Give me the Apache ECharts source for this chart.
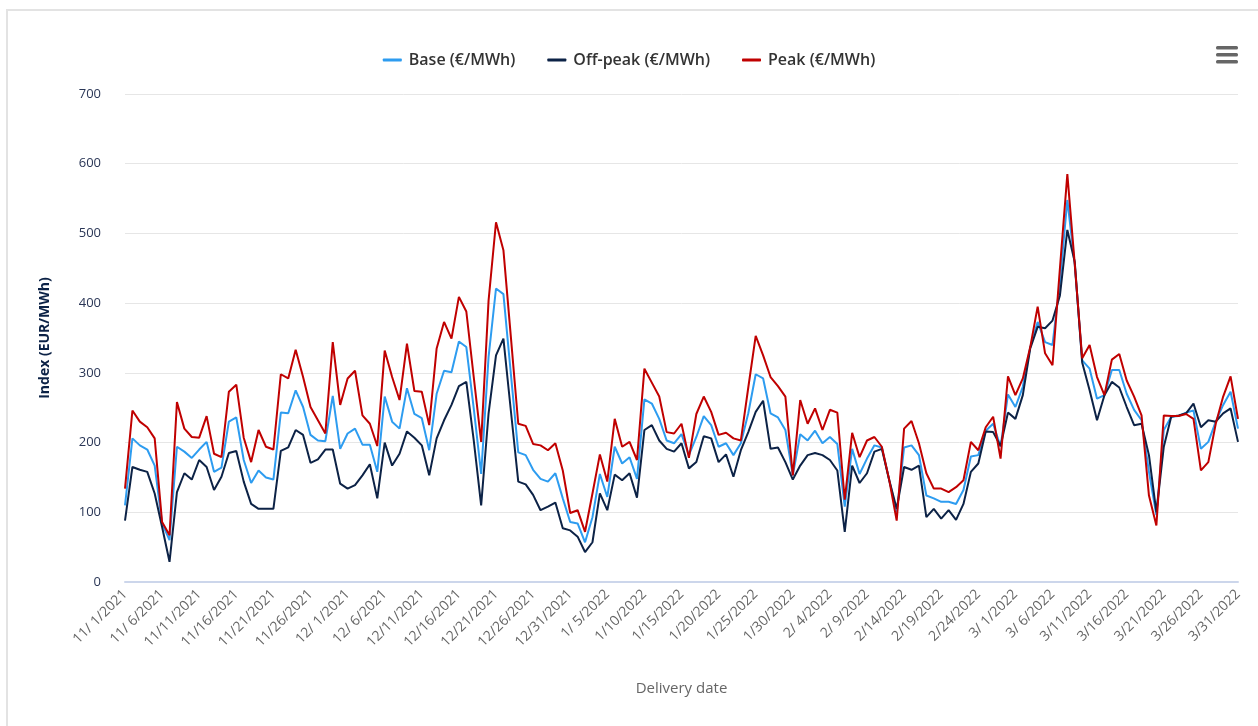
<!DOCTYPE html>
<html>
<head>
<meta charset="utf-8">
<script src="https://cdn.jsdelivr.net/npm/echarts@6/dist/echarts.min.js"></script>
<style>
html,body{margin:0;padding:0;background:#fff;}
#c{width:1258px;height:726px;}
</style>
</head>
<body>
<div id="c"></div>
<script>
// Delivery dates: 11/1/2021 .. 3/31/2022 (daily)
const startDate = [2021, 10, 1]; // year, monthIndex, day
const dayCount = 151;

const seriesNames = ['Base (€/MWh)', 'Off-peak (€/MWh)', 'Peak (€/MWh)'];

const baseValues = [110,206,196,190,167,84,60,194,187,178,190,201,158,164,230,236,175,142,160,150,
147,243,242,275,251,211,203,202,267,191,213,220,197,197,158,266,230,220,278,241,
235,189,270,303,301,345,337,249,155,323,421,413,299,186,182,161,148,144,156,120,
86,84,57,93,155,122,194,170,179,148,262,256,234,203,199,212,182,208,238,225,
194,199,182,199,242,298,292,242,236,218,153,212,203,217,199,208,198,108,191,155,
177,196,193,146,100,193,196,182,124,120,115,115,112,132,180,182,217,227,194,269,
251,280,337,373,344,340,430,548,455,318,306,263,268,304,304,270,247,232,158,96,
218,237,238,243,246,191,201,230,254,273,220];

const offPeakValues = [88,165,161,158,127,79,29,129,156,147,175,165,132,151,185,188,144,112,105,105,
105,188,193,218,211,171,176,190,190,141,134,139,153,169,120,200,167,184,216,207,
196,153,206,232,254,281,287,203,110,242,325,349,246,144,140,125,103,108,114,77,
74,65,43,57,127,103,154,146,156,121,218,225,203,191,187,199,163,172,209,206,
172,183,151,189,215,244,260,191,193,172,147,167,182,185,182,175,160,72,167,142,
156,187,191,146,105,165,161,167,93,105,91,103,89,112,158,170,216,215,195,243,
234,268,335,366,364,375,411,505,459,315,275,232,268,287,279,251,225,227,182,100,
194,237,239,242,256,222,232,230,242,249,201];

const peakValues = [134,246,230,222,206,86,67,258,220,208,207,238,184,179,273,283,207,172,218,194,
190,298,292,333,294,251,232,213,344,254,292,303,239,227,195,332,294,261,342,274,
273,225,335,373,349,409,388,294,201,404,516,476,352,227,224,198,196,189,199,160,
99,103,72,127,183,144,234,194,201,175,306,286,266,215,213,227,178,241,266,244,
211,214,206,203,279,353,325,294,281,266,153,261,227,249,218,247,243,118,214,179,
203,208,194,146,88,220,231,199,156,134,134,129,136,146,201,189,222,237,177,295,
268,292,337,395,328,311,450,585,456,321,340,294,268,319,327,289,266,239,124,81,
239,238,238,241,234,160,172,227,266,295,234];

const yTicks = {min: 0, max: 700, interval: 100};

function buildCategories() {
  const out = [];
  const d = new Date(startDate[0], startDate[1], startDate[2]);
  for (let i = 0; i < dayCount; i++) {
    const m = d.getMonth() + 1;
    const day = d.getDate();
    out.push(m + '/' + (day < 10 ? ' ' + day : day) + '/' + d.getFullYear());
    d.setDate(d.getDate() + 1);
  }
  return out;
}
const categories = buildCategories();

const colors = ['#2d9cf0', '#0c2246', '#c00000'];
const FONT = '"Open Sans", "Noto Sans", sans-serif';

const chart = echarts.init(document.getElementById('c'), null, {renderer: 'canvas'});
chart.setOption({
  animation: false,
  color: colors,
  textStyle: {fontFamily: FONT},
  legend: {
    top: 47,
    left: 'center',
    icon: 'roundRect',
    itemWidth: 19,
    itemHeight: 3,
    itemGap: 32,
    textStyle: {fontSize: 16, color: '#333333', fontFamily: FONT, fontWeight: 600, padding: [0, 0, 0, 2]},
    data: seriesNames
  },
  grid: {left: 125, right: 20, top: 94, bottom: 144, containLabel: false},
  xAxis: {
    type: 'category',
    data: categories,
    boundaryGap: false,
    name: 'Delivery date',
    nameLocation: 'middle',
    nameGap: 99,
    nameTextStyle: {color: '#666666', fontSize: 15, fontFamily: FONT},
    axisLine: {lineStyle: {color: '#ccd6eb', width: 2}},
    axisTick: {show: false},
    axisLabel: {
      interval: 4,
      rotate: 45,
      margin: 10,
      color: '#666666',
      fontSize: 14,
      fontFamily: FONT
    },
    splitLine: {show: false}
  },
  yAxis: {
    type: 'value',
    min: yTicks.min,
    max: yTicks.max,
    interval: yTicks.interval,
    name: 'Index (EUR/MWh)',
    nameLocation: 'middle',
    nameGap: 73,
    nameTextStyle: {color: '#0c2246', fontSize: 14, fontWeight: 'bold', fontFamily: FONT},
    axisLine: {show: false},
    axisTick: {show: false},
    axisLabel: {color: '#2a3656', fontSize: 13, margin: 24, fontFamily: FONT},
    splitLine: {lineStyle: {color: '#e6e6e6', width: 1}}
  },
  series: [
    {name: seriesNames[0], type: 'line', data: baseValues, showSymbol: false, symbol: 'none',
     lineStyle: {width: 2, color: colors[0]}, z: 2},
    {name: seriesNames[1], type: 'line', data: offPeakValues, showSymbol: false, symbol: 'none',
     lineStyle: {width: 2, color: colors[1]}, z: 3},
    {name: seriesNames[2], type: 'line', data: peakValues, showSymbol: false, symbol: 'none',
     lineStyle: {width: 2, color: colors[2]}, z: 4}
  ],
  graphic: [
    {type: 'polyline', silent: true, shape: {points: [[7, 726], [7, 10], [1258, 10]]},
     style: {stroke: '#e3e3e3', lineWidth: 2, fill: null}},
    {type: 'group', left: 1216, top: 46, children: [
      {type: 'rect', shape: {x: 0, y: 0, width: 22, height: 3.5, r: 1.5}, style: {fill: '#666666'}},
      {type: 'rect', shape: {x: 0, y: 7, width: 22, height: 3.5, r: 1.5}, style: {fill: '#666666'}},
      {type: 'rect', shape: {x: 0, y: 14, width: 22, height: 3.5, r: 1.5}, style: {fill: '#666666'}}
    ]}
  ]
});
</script>
</body>
</html>
